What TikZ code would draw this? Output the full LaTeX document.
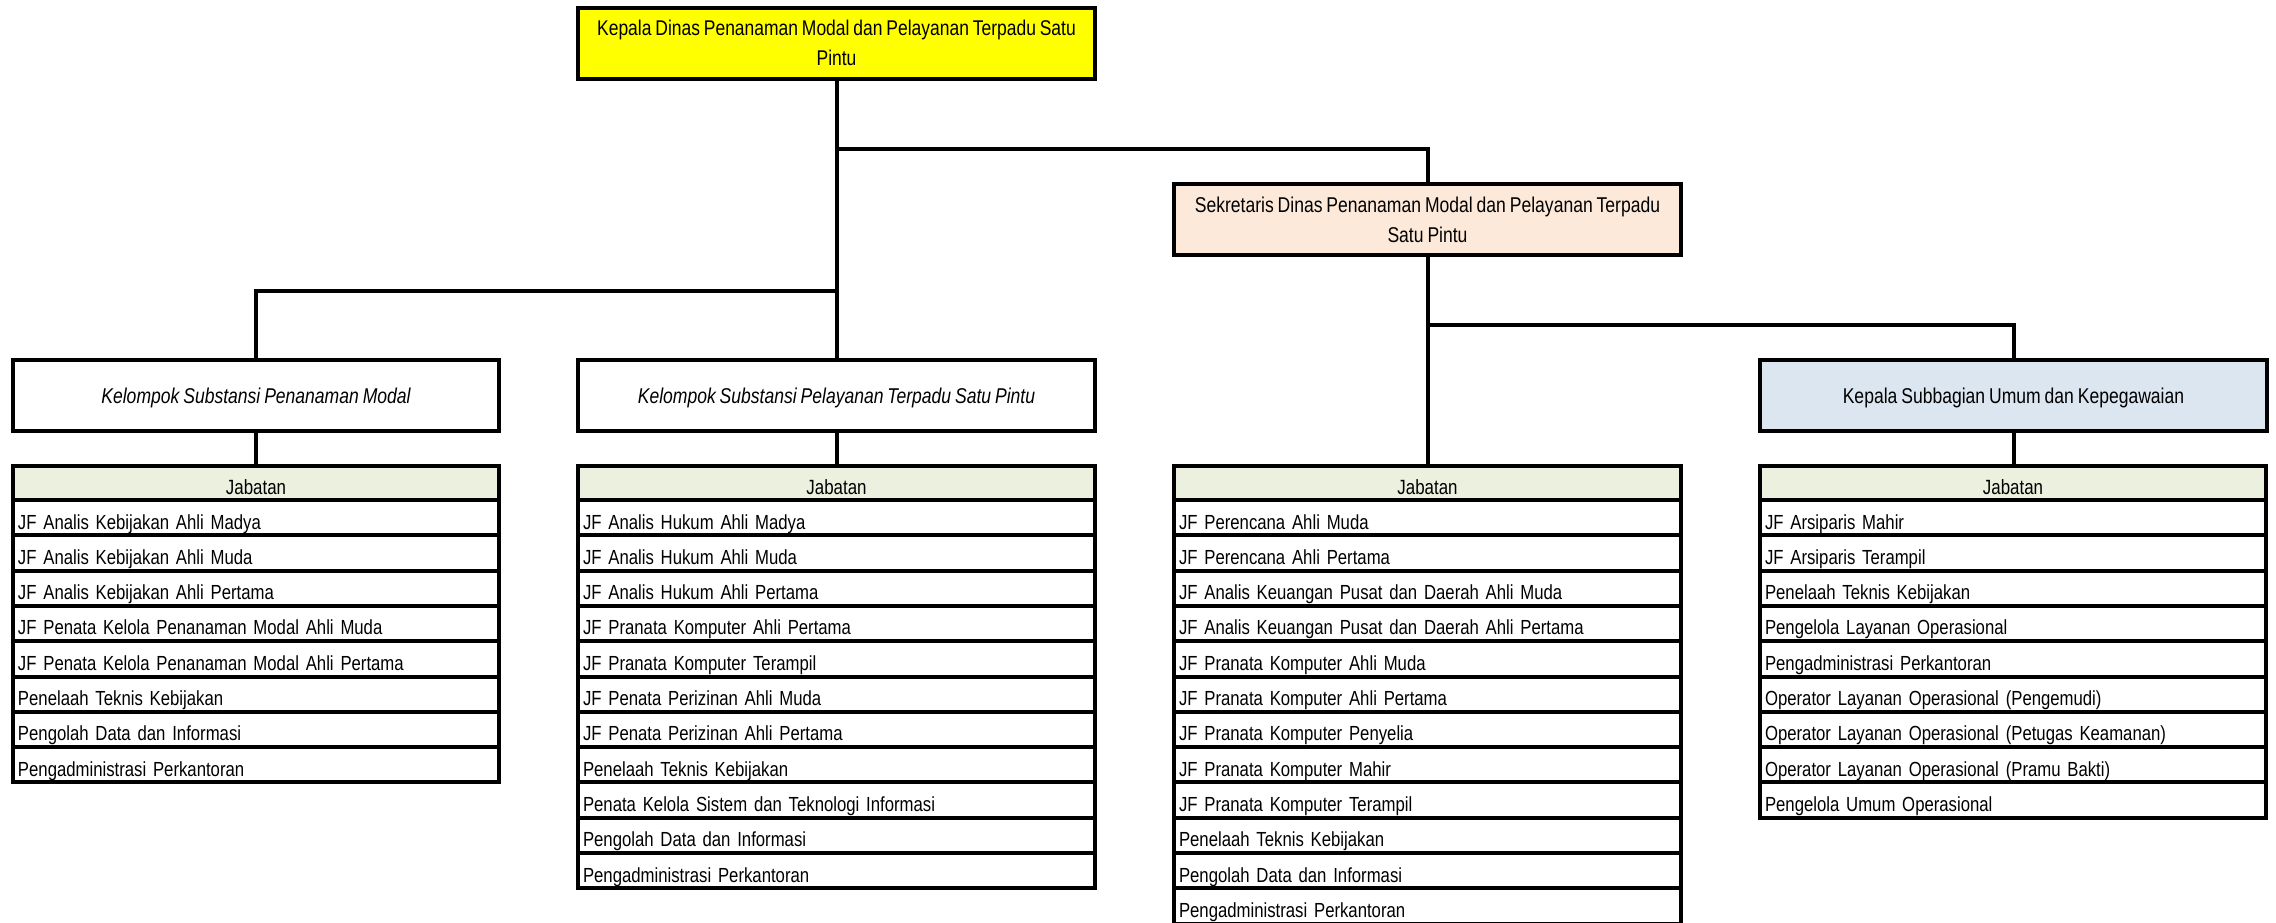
\documentclass[tikz,border=0pt]{standalone}
\usepackage{fontspec}
\setmainfont{Liberation Sans}[FakeStretch=0.82,WordSpace=0.8]
\usetikzlibrary{calc}
\definecolor{headyellow}{HTML}{FFFF00}
\definecolor{sekfill}{HTML}{FDE9D9}
\definecolor{subfill}{HTML}{DCE6F1}
\definecolor{jabfill}{HTML}{EBF1DE}
\tikzset{
  box/.style={draw, line width=2pt, outer sep=0pt, inner sep=2pt, align=center,
    font=\fontsize{10.7}{15}\selectfont, minimum height=35.5pt},
  onebox/.style={box, text height=9.5pt, text depth=1.1pt},
  hdr/.style={draw, line width=2pt, outer sep=0pt, inner sep=0pt, fill=jabfill,
    minimum height=17pt, anchor=north west, text height=12pt, text depth=0.6pt,
    font=\fontsize{10.3}{12.6}\selectfont},
  rowc/.style={draw, line width=2pt, outer sep=0pt, inner ysep=0pt, inner xsep=2.5pt,
    minimum height=17.65pt, anchor=north west, align=left,
    text height=12pt, text depth=0.6pt,
    font=\fontsize{10.2}{12.6}\selectfont},
  conn/.style={line width=2pt}
}
\newcommand\jtab[4]{%
  \pgfmathsetmacro\tw{(#3-#2)*0.5}
  \node[hdr, minimum width=\tw pt] (#1h) at (#2,466) {Jabatan};
  \foreach \t [count=\i] in {#4} {
    \node[rowc, minimum width=\tw pt, text width=\tw pt-5pt] (#1r\i) at (#2,{500+(\i-1)*35.3}) {\t};
  }
}
\begin{document}
\begin{tikzpicture}[x=0.5pt,y=-0.5pt]
\useasboundingbox (0,0) rectangle (2276,922);
\clip (0,0) rectangle (2276,922);
% main boxes
\node[box, fill=headyellow, minimum width=258.5pt, font=\fontsize{10.65}{15}\selectfont] (top) at (836.5,43)
  {Kepala Dinas Penanaman Modal dan Pelayanan Terpadu Satu\\Pintu};
\node[box, fill=sekfill, minimum width=253.5pt] (sek) at (1427.5,219.5)
  {Sekretaris Dinas Penanaman Modal dan Pelayanan Terpadu\\Satu Pintu};
\node[onebox, minimum width=243pt] (kA) at (256,395.5)
  {\itshape Kelompok Substansi Penanaman Modal};
\node[onebox, minimum width=258.5pt] (kB) at (836.5,395.5)
  {\itshape Kelompok Substansi Pelayanan Terpadu Satu Pintu};
\node[onebox, fill=subfill, minimum width=253.5pt] (kD) at (2013.5,395.5)
  {Kepala Subbagian Umum dan Kepegawaian};
% tables
\jtab{A}{13}{499}{{JF Analis Kebijakan Ahli Madya},{JF Analis Kebijakan Ahli Muda},{JF Analis Kebijakan Ahli Pertama},{JF Penata Kelola Penanaman Modal Ahli Muda},{JF Penata Kelola Penanaman Modal Ahli Pertama},{Penelaah Teknis Kebijakan},{Pengolah Data dan Informasi},{Pengadministrasi Perkantoran}}
\jtab{B}{578}{1095}{{JF Analis Hukum Ahli Madya},{JF Analis Hukum Ahli Muda},{JF Analis Hukum Ahli Pertama},{JF Pranata Komputer Ahli Pertama},{JF Pranata Komputer Terampil},{JF Penata Perizinan Ahli Muda},{JF Penata Perizinan Ahli Pertama},{Penelaah Teknis Kebijakan},{Penata Kelola Sistem dan Teknologi Informasi},{Pengolah Data dan Informasi},{Pengadministrasi Perkantoran}}
\jtab{C}{1174}{1681}{{JF Perencana Ahli Muda},{JF Perencana Ahli Pertama},{JF Analis Keuangan Pusat dan Daerah Ahli Muda},{JF Analis Keuangan Pusat dan Daerah Ahli Pertama},{JF Pranata Komputer Ahli Muda},{JF Pranata Komputer Ahli Pertama},{JF Pranata Komputer Penyelia},{JF Pranata Komputer Mahir},{JF Pranata Komputer Terampil},{Penelaah Teknis Kebijakan},{Pengolah Data dan Informasi},{Pengadministrasi Perkantoran}}
\jtab{D}{1760}{2266}{{JF Arsiparis Mahir},{JF Arsiparis Terampil},{Penelaah Teknis Kebijakan},{Pengelola Layanan Operasional},{Pengadministrasi Perkantoran},{Operator Layanan Operasional (Pengemudi)},{Operator Layanan Operasional (Petugas Keamanan)},{Operator Layanan Operasional (Pramu Bakti)},{Pengelola Umum Operasional}}
% connectors
\coordinate (busA) at (0,149);
\coordinate (busB) at (0,291);
\coordinate (busC) at (0,325);
\draw[conn] (top.south) -- (top.south |- busA) -| (sek.north);
\draw[conn] (top.south |- busA) -- (kB.north);
\draw[conn] (kB.north |- busB) -| (kA.north);
\draw[conn] (kA.south) -- (Ah.north -| kA.south);
\draw[conn] (kB.south) -- (Bh.north -| kB.south);
\draw[conn] (sek.south) -- (Ch.north -| sek.south);
\draw[conn] (sek.south |- busC) -| (kD.north);
\draw[conn] (kD.south) -- (Dh.north -| kD.south);
\end{tikzpicture}
\end{document}
